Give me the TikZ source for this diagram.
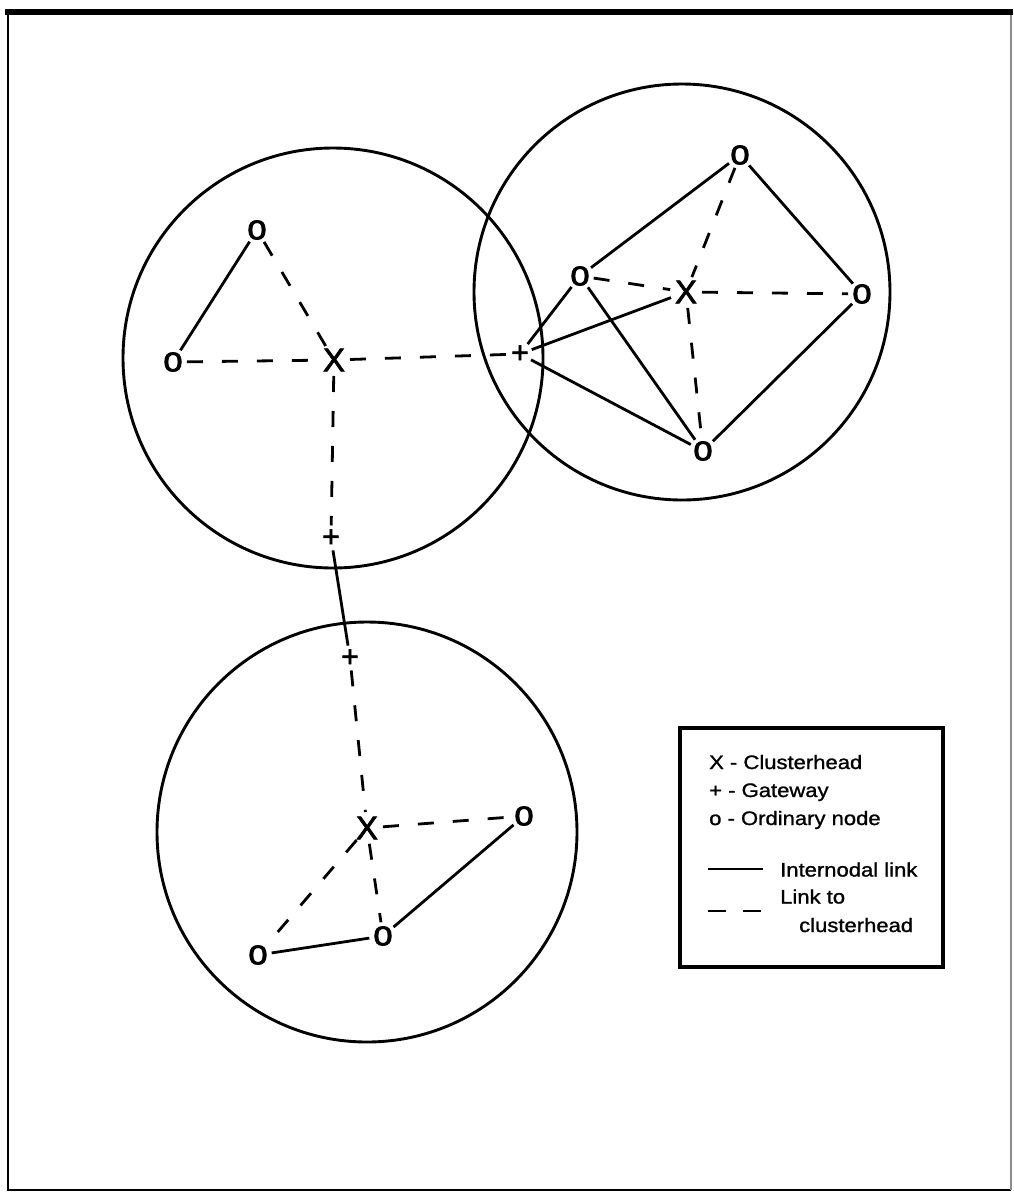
\documentclass[tikz,border=0pt]{standalone}
\usepackage{fontspec}
\setmainfont{Liberation Sans}
\newfontfamily\legfont[FakeStretch=1.13,FakeBold=1.2]{Liberation Sans}
\newfontfamily\markfont[FakeBold=2.2]{Liberation Sans}
\begin{document}
\begin{tikzpicture}[x=1pt,y=-1pt,
  ptx/.style={circle, inner sep=0pt, font=\markfont\fontsize{33}{33}\selectfont},
  pto/.style={circle, inner sep=0pt, font=\markfont\fontsize{35}{35}\selectfont},
  ptg/.style={circle, inner sep=0pt, font=\markfont\fontsize{30}{30}\selectfont},
  solidlink/.style={line width=2.8pt},
  dashlink/.style={line width=2.8pt, dash pattern=on 16pt off 19pt},
  ring/.style={line width=2.9pt},
  legtext/.style={anchor=base west, inner sep=0pt, font=\legfont\fontsize{19.5}{19.5}\selectfont}
]
\useasboundingbox (0,0) rectangle (1013,1195);
% frame
\draw[line width=2.2pt] (8,12) -- (8,1190) -- (1011,1190);
\draw[line width=1.2pt, black!45] (1011,12) -- (1011,1190);
\draw[line width=6pt] (5,12) -- (1013,12);
% ranges
\draw[ring] (333,358) circle[radius=210];
\draw[ring] (682,292) circle[radius=208];
\draw[ring] (367,832) circle[radius=210];
% cluster 1
\node[ptx] (c1x) at (334,360) {X};
\node[pto] (c1a) at (257,230) {o};
\node[pto] (c1b) at (173,362) {o};
% gateways
\node[ptg] (g1) at (520,354) {+};
\node[ptg] (g2) at (331,538) {+};
\node[ptg] (g3) at (350,658) {+};
% cluster 2
\node[ptx] (c2x) at (686,292) {X};
\node[pto] (c2t) at (740,155) {o};
\node[pto] (c2l) at (580,276) {o};
\node[pto] (c2r) at (862,294) {o};
\node[pto] (c2b) at (703,451) {o};
% cluster 3
\node[ptx] (c3x) at (367,828) {X};
\node[pto] (c3r) at (524,816) {o};
\node[pto] (c3m) at (383,936) {o};
\node[pto] (c3l) at (258,955) {o};
% links cluster 1
\draw[solidlink] (c1b) -- (c1a);
\draw[dashlink] (c1a) -- (c1x);
\draw[dashlink] (c1b) -- (c1x);
\draw[dashlink] (c1x) -- (g1);
\draw[dashlink] (c1x) -- (g2);
\draw[solidlink] (g2) -- (g3);
\draw[dashlink] (g3) -- (c3x);
% links cluster 2
\draw[solidlink] (c2l) -- (c2t);
\draw[dashlink] (c2t) -- (c2x);
\draw[dashlink] (c2l) -- (c2x);
\draw[dashlink] (c2x) -- (c2r);
\draw[dashlink] (c2x) -- (c2b);
\draw[solidlink] (c2t) -- (c2r);
\draw[solidlink] (c2r) -- (c2b);
\draw[solidlink] (c2l) -- (c2b);
\draw[solidlink] (g1) -- (c2l);
\draw[solidlink] (g1) -- (c2x);
\draw[solidlink] (g1) -- (c2b);
% links cluster 3
\draw[dashlink] (c3x) -- (c3r);
\draw[dashlink] (c3x) -- (c3m);
\draw[dashlink] (c3x) -- (c3l);
\draw[solidlink] (c3l) -- (c3m);
\draw[solidlink] (c3m) -- (c3r);
% legend
\node[draw, line width=4.5pt, minimum width=263pt, minimum height=239pt, inner sep=0pt] (legend) at (811.5,847.5) {};
\node[legtext] (l1) at (709,769) {X - Clusterhead};
\node[legtext] (l2) at (709,797) {+ - Gateway};
\node[legtext] (l3) at (709,825) {o - Ordinary node};
\coordinate (s1) at (708,869);
\coordinate (s2) at (763,869);
\draw[line width=2.8pt] (s1) -- (s2);
\node[legtext] (l4) at (780,876.5) {Internodal link};
\node[legtext] (l5) at (780,903.5) {Link to};
\coordinate (d1) at (708,911);
\coordinate (d2) at (762,911);
\draw[line width=2.8pt, dash pattern=on 18pt off 17pt] (d1) -- (d2);
\node[legtext] (l6) at (799,932) {clusterhead};
\end{tikzpicture}
\end{document}
